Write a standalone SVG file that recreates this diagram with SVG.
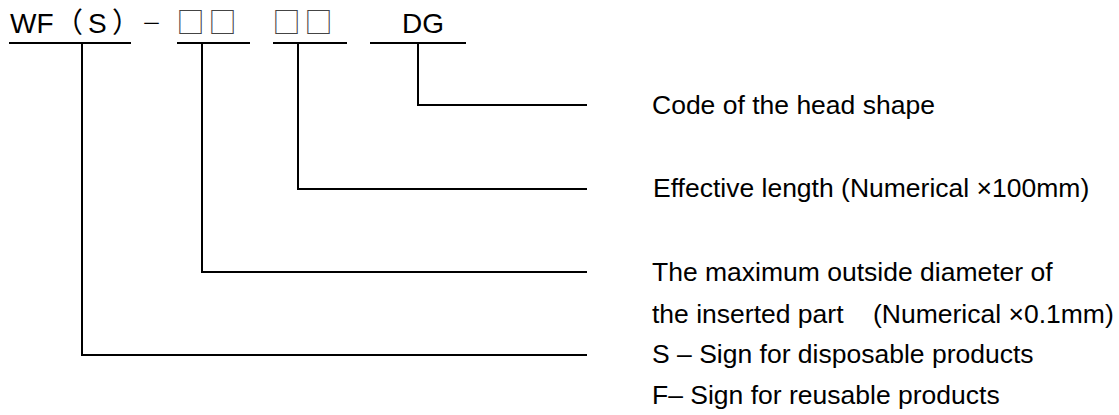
<svg xmlns="http://www.w3.org/2000/svg" width="1119" height="415" viewBox="0 0 1119 415">
<style>
.t{font-family:"Liberation Sans",Arial,sans-serif;fill:#000}
.title{font-size:28px}
.cjk{font-family:"Noto Sans CJK SC","Liberation Sans",sans-serif;fill:#000}
.sqc{font-family:"Noto Sans CJK SC",sans-serif;font-size:28px;fill:#444}
.lbl{font-size:26.5px}
.ln{stroke:#000;stroke-width:2;fill:none}
</style>
<rect width="1119" height="415" fill="#fff"/>
<g id="code">
<text class="t title" x="10" y="33">WF</text>
<text class="cjk title" x="55" y="33">（</text>
<text class="t title" x="88" y="33" font-size="29">S</text>
<text class="cjk title" x="112" y="33">）</text>
<text class="cjk" x="151.5" y="31" font-size="20" text-anchor="middle" fill="#333">－</text>
<text class="sqc" x="190.5" y="33" text-anchor="middle">□</text>
<text class="sqc" x="222.5" y="33" text-anchor="middle">□</text>
<text class="sqc" x="286.5" y="33" text-anchor="middle">□</text>
<text class="sqc" x="318.5" y="33" text-anchor="middle">□</text>
<text class="t title" x="402" y="33">DG</text>
</g>
<g id="connectors">
<line class="ln" x1="9" y1="43" x2="131" y2="43"/>
<line class="ln" x1="177" y1="43" x2="250" y2="43"/>
<line class="ln" x1="273" y1="43" x2="347" y2="43"/>
<line class="ln" x1="370" y1="43" x2="466" y2="43"/>
<polyline class="ln" points="418,43 418,105 587,105"/>
<polyline class="ln" points="298,43 298,189 587,189"/>
<polyline class="ln" points="202,43 202,272 587,272"/>
<polyline class="ln" points="82,43 82,355 587,355"/>
</g>
<g id="label-head">
<text class="t lbl" x="652" y="114">Code of the head shape</text>
</g>
<g id="label-length">
<text class="t lbl" x="653" y="197">Effective length (Numerical ×100mm)</text>
</g>
<g id="label-diameter">
<text class="t lbl" x="652" y="281">The maximum outside diameter of</text>
<text class="t lbl" x="652" y="323">the inserted part</text>
<text class="t lbl" x="873" y="323">(Numerical ×0.1mm)</text>
</g>
<g id="label-sign">
<text class="t lbl" x="652" y="363">S – Sign for disposable products</text>
<text class="t lbl" x="652" y="404">F– Sign for reusable products</text>
</g>
</svg>
